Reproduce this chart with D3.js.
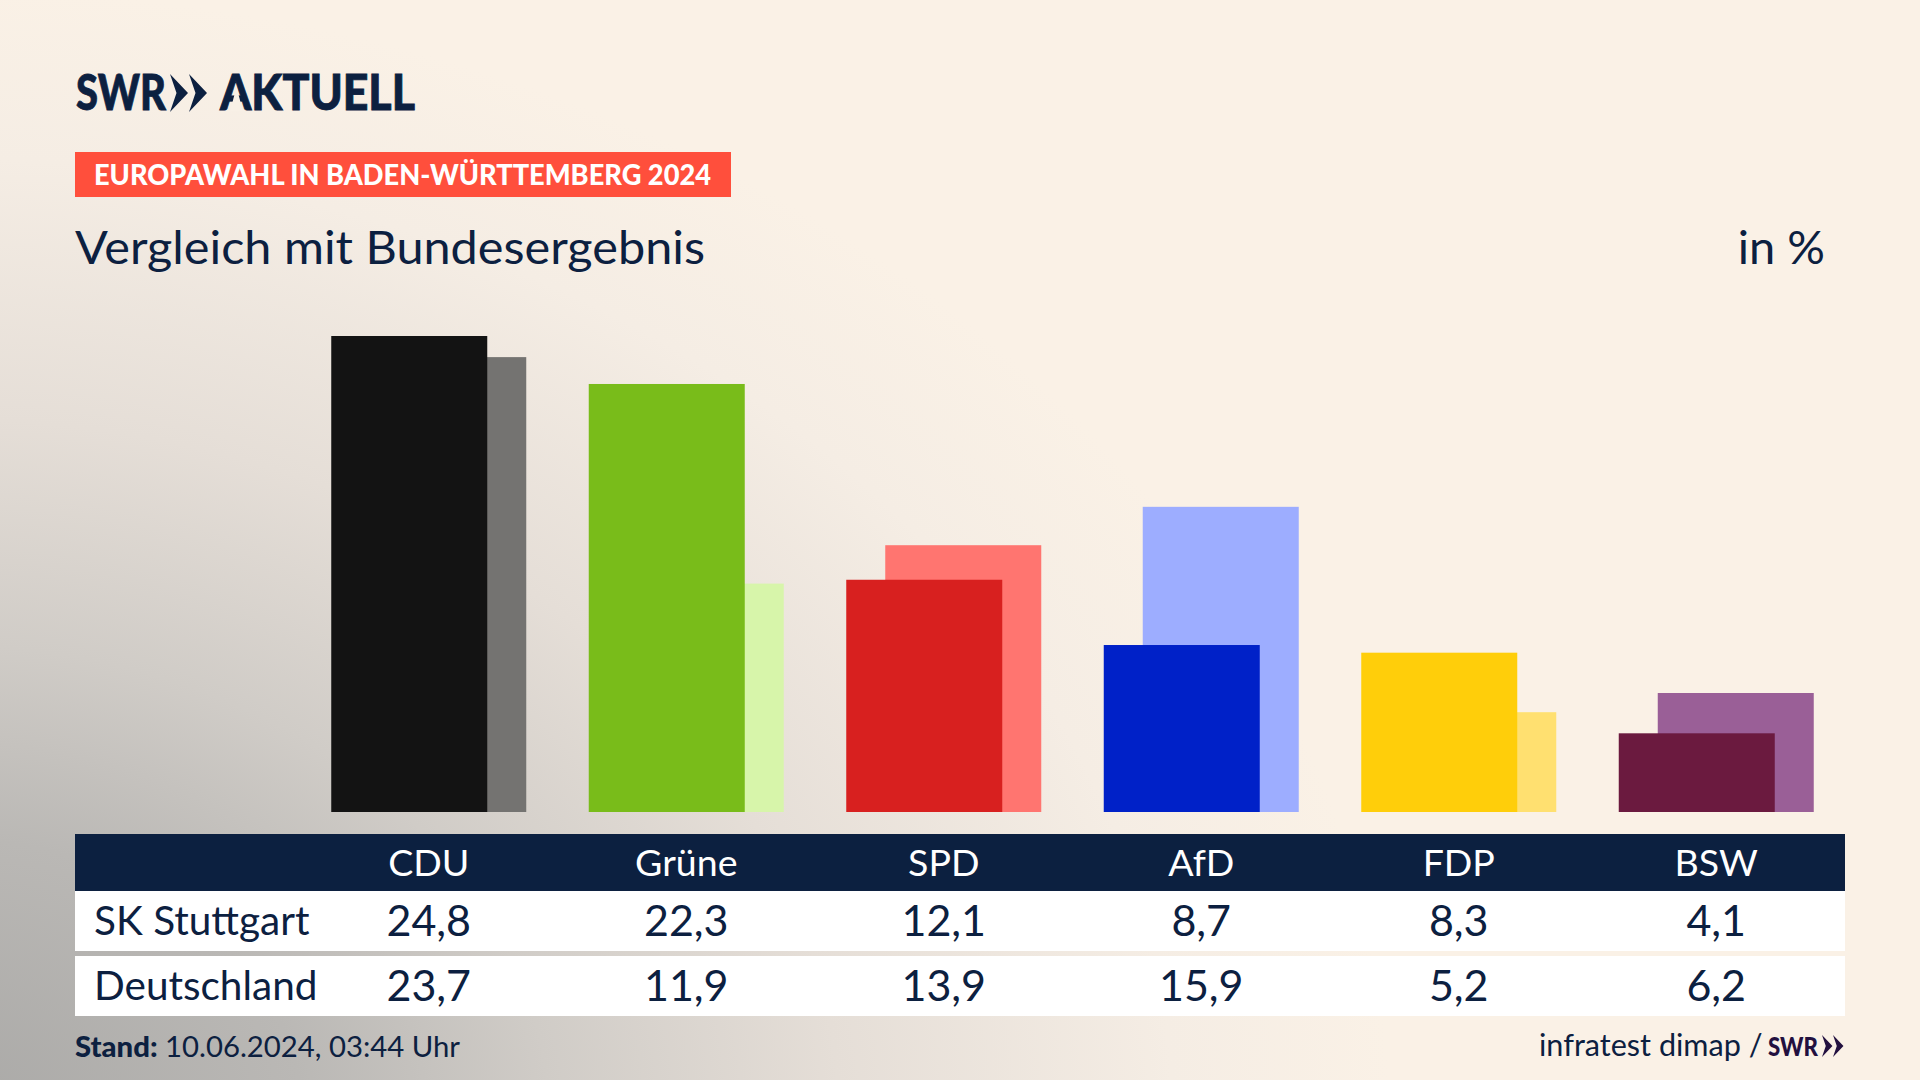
<!DOCTYPE html>
<html>
<head>
<meta charset="utf-8">
<script src="https://cdn.jsdelivr.net/npm/d3@7"></script>
<style>
html, body { margin: 0; padding: 0; background: #faf1e6; overflow: hidden; }
svg { display: block; }
text { font-family: Lato, "Noto Sans", sans-serif; fill: #0c2040; }
</style>
</head>
<body>
<svg id="chart" width="1920" height="1080"></svg>
<script>
var parties = ["CDU", "Grüne", "SPD", "AfD", "FDP", "BSW"];
var stuttgart = [24.8, 22.3, 12.1, 8.7, 8.3, 4.1];
var deutschland = [23.7, 11.9, 13.9, 15.9, 5.2, 6.2];
var frontColors = ["#131313", "#79bc1a", "#d8201f", "#0021c8", "#ffce0a", "#6b1a3f"];
var backColors = ["#747371", "#d7f5aa", "#ff7570", "#9dadff", "#ffe070", "#9a5f97"];
var rowNames = ["SK Stuttgart", "Deutschland"];

var svg = d3.select("#chart");
var navy = "#0c2040";

// background, wider than tall from the lower left corner
var defs = svg.append("defs");
var glow = defs.append("radialGradient").attr("id", "bgGlow")
  .attr("gradientUnits", "userSpaceOnUse")
  .attr("cx", 0).attr("cy", 0).attr("r", 1450)
  .attr("gradientTransform", "translate(-60,1120) scale(1,0.78)");
[[0, "#a9a8a6"], [0.25, "#bab8b5"], [0.42, "#d0ccc7"], [0.62, "#e5ded7"], [0.85, "#f5ede4"], [1, "#faf1e6"]].forEach(function(s) {
  glow.append("stop").attr("offset", s[0]).attr("stop-color", s[1]);
});
svg.append("rect").attr("width", 1920).attr("height", 1080).attr("fill", "url(#bgGlow)");

// Scales
var x = d3.scaleBand().domain(parties).range([300, 1845]);
var y = d3.scaleLinear().domain([0, 24.8]).range([812, 336]);
var frontWidth = 156;
var backOffset = 39;
var de = d3.formatLocale({ decimal: ",", thousands: ".", grouping: [3], currency: ["", "€"] }).format(".1f");

function barLeft(p) {
  return x(p) + x.bandwidth() / 2 - (frontWidth + backOffset) / 2;
}

// Bars
svg.append("g").selectAll("rect").data(parties).enter().append("rect")
  .attr("x", d => barLeft(d) + backOffset)
  .attr("y", (d, i) => y(deutschland[i]))
  .attr("width", frontWidth)
  .attr("height", (d, i) => y(0) - y(deutschland[i]))
  .attr("fill", (d, i) => backColors[i]);

svg.append("g").selectAll("rect").data(parties).enter().append("rect")
  .attr("x", d => barLeft(d))
  .attr("y", (d, i) => y(stuttgart[i]))
  .attr("width", frontWidth)
  .attr("height", (d, i) => y(0) - y(stuttgart[i]))
  .attr("fill", (d, i) => frontColors[i]);

// Table
svg.append("rect").attr("x", 75).attr("y", 834).attr("width", 1770).attr("height", 57).attr("fill", navy);
svg.append("rect").attr("x", 75).attr("y", 891).attr("width", 1770).attr("height", 60).attr("fill", "#fff");
svg.append("rect").attr("x", 75).attr("y", 956).attr("width", 1770).attr("height", 60).attr("fill", "#fff");

var axis = svg.append("g").attr("transform", "translate(0,876)")
  .call(d3.axisBottom(x).tickSize(0).tickPadding(0));
axis.select(".domain").remove();
axis.selectAll("text").attr("y", 0).attr("dy", 0)
  .style("font-size", "37.5px").style("font-family", "Lato").style("fill", "#fff");

function tableRow(name, values, base) {
  svg.append("text").attr("x", 94).attr("y", base).attr("font-size", 40.5).text(name);
  svg.append("g").selectAll("text").data(values).enter().append("text")
    .attr("x", (d, i) => x(parties[i]) + x.bandwidth() / 2)
    .attr("y", base + 1)
    .attr("text-anchor", "middle")
    .attr("font-size", 43)
    .text(d => de(d));
}
tableRow(rowNames[0], stuttgart, 935);
tableRow(rowNames[1], deutschland, 1000);

// Header
var logo = svg.append("g").style("stroke", navy).style("stroke-width", 0.8);
logo.append("text").attr("x", 76).attr("y", 110).attr("font-size", 49).attr("font-weight", 900)
  .attr("textLength", 90).attr("lengthAdjust", "spacingAndGlyphs").text("SWR");
logo.append("text").attr("x", 220).attr("y", 110).attr("font-size", 49).attr("font-weight", 900)
  .attr("textLength", 195).attr("lengthAdjust", "spacingAndGlyphs").text("AKTUELL");
// the logo's A has no crossbar
svg.append("path").attr("d", "M236.5,87L230,111.5L243,111.5Z").attr("fill", "#f8f0e6");
function chevrons(g, s) {
  [0, 19].forEach(function(dx) {
    g.append("path").attr("d", "M" + dx * s + ",0L" + (dx + 18) * s + "," + 19 * s + "L" + dx * s + "," + 38 * s +
        "L" + (dx + 6.5) * s + "," + 19 * s + "Z");
  });
}
chevrons(svg.append("g").attr("transform", "translate(170,74)").attr("fill", navy), 1);

svg.append("rect").attr("x", 75).attr("y", 152).attr("width", 656).attr("height", 45).attr("fill", "#ff4f3c");
svg.append("text").attr("x", 94).attr("y", 185).attr("font-size", 28.5).attr("font-weight", 900)
  .style("fill", "#fff").attr("textLength", 617).attr("lengthAdjust", "spacingAndGlyphs")
  .text("EUROPAWAHL IN BADEN-WÜRTTEMBERG 2024");

svg.append("text").attr("x", 75).attr("y", 264).attr("font-size", 47)
  .attr("textLength", 630).attr("lengthAdjust", "spacingAndGlyphs").text("Vergleich mit Bundesergebnis");
svg.append("text").attr("x", 1825).attr("y", 264).attr("font-size", 47).attr("text-anchor", "end").text("in %");

// Footer
var stand = svg.append("text").attr("x", 75).attr("y", 1057).attr("font-size", 29.3);
stand.append("tspan").attr("font-weight", 900).text("Stand:");
stand.append("tspan").text(" 10.06.2024, 03:44 Uhr");
svg.append("text").attr("x", 1539).attr("y", 1056).attr("font-size", 30.6).text("infratest dimap /");
svg.append("text").attr("x", 1768).attr("y", 1056).attr("font-size", 27).attr("font-weight", 900)
  .style("fill", "#22103f").attr("textLength", 50).attr("lengthAdjust", "spacingAndGlyphs").text("SWR");
chevrons(svg.append("g").attr("transform", "translate(1822,1035)").attr("fill", "#22103f"), 0.58);
</script>
</body>
</html>
